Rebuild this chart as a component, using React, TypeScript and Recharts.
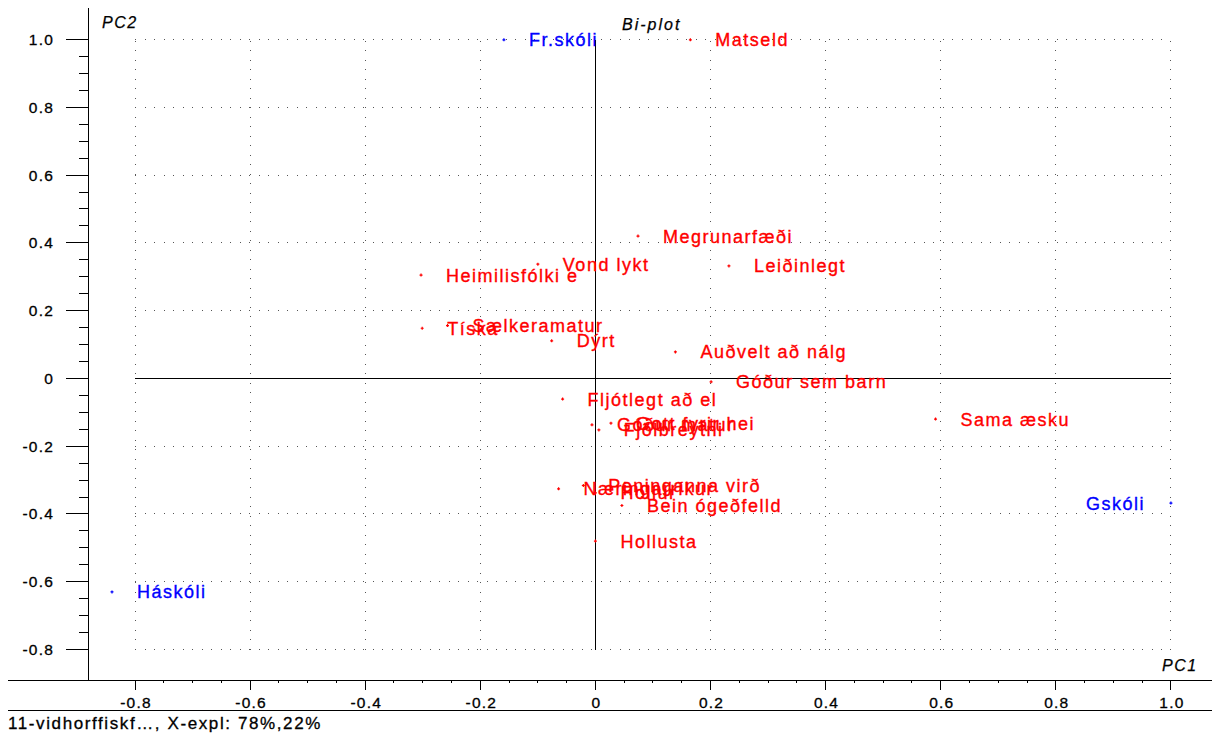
import React from "react"
import { ScatterChart, Scatter, XAxis, YAxis, ReferenceLine } from "recharts"

// variables (red) read from the bi-plot
const varNames = [
  "Matseld",
  "Megrunarfæði",
  "Leiðinlegt",
  "Vond lykt",
  "Heimilisfólki e",
  "Tíska",
  "Sælkeramatur",
  "Dýrt",
  "Auðvelt að nálg",
  "Góður sem barn",
  "Sama æsku",
  "Fljótlegt að el",
  "Góður matur",
  "Fjölbreytni",
  "Gott fyrir hei",
  "Næringarríkur",
  "Peninganna virð",
  "Hollur",
  "Bein ógeðfelld",
  "Hollusta",
]
const varPC1 = [0.165, 0.074, 0.232, -0.1, -0.303, -0.301, -0.257, -0.076, 0.139, 0.201, 0.591, -0.057, -0.006, 0.006, 0.027, -0.064, -0.021, 0.0, 0.046, 0.0]
const varPC2 = [0.999, 0.42, 0.332, 0.337, 0.305, 0.148, 0.156, 0.111, 0.078, -0.01, -0.12, -0.061, -0.137, -0.152, -0.132, -0.326, -0.316, -0.338, -0.375, -0.48]

// samples (blue)
const sampleNames = ["Fr.skóli", "Háskóli", "Gskóli"]
const samplePC1 = [-0.159, -0.84, 1.0]
const samplePC2 = [0.999, -0.63, -0.368]

const majorTicks = [-0.8, -0.6, -0.4, -0.2, 0, 0.2, 0.4, 0.6, 0.8, 1.0]

const varData = varNames.map((name, i) => ({ name, x: varPC1[i], y: varPC2[i] }))
const sampleData = sampleNames.map((name, i) => ({ name, x: samplePC1[i], y: samplePC2[i] }))

const allTicks: number[] = []
majorTicks.forEach((m, i) => {
  allTicks.push(m)
  if (i < majorTicks.length - 1) {
    for (let k = 1; k < 4; k++) allTicks.push(Math.round((m + k * 0.05) * 100) / 100)
  }
})

const FONT = "'Liberation Sans', Arial, sans-serif"
const isMajor = (v: number) => majorTicks.some((m) => Math.abs(m - v) < 1e-6)
const fmt = (v: number) => (Math.abs(v) < 1e-6 ? "0" : v.toFixed(1))

const XTick = (props: any) => {
  const { x, y, payload } = props
  const major = isMajor(payload.value)
  return (
    <g>
      <line x1={x} x2={x} y1={y} y2={y + (major ? 10 : 3)} stroke="#000" shapeRendering="crispEdges" />
      {major && (
        <text
          x={x + 1}
          y={y + 28}
          textAnchor="middle"
          fontSize={15.5}
          letterSpacing={1.2}
          fontFamily={FONT}
          fill="#000"
          stroke="#000"
          strokeWidth={0.3}
        >
          {fmt(payload.value)}
        </text>
      )}
    </g>
  )
}

const YTick = (props: any) => {
  const { x, y, payload } = props
  const major = isMajor(payload.value)
  return (
    <g>
      <line x1={x - (major ? 22 : 9)} x2={x} y1={y} y2={y} stroke="#000" shapeRendering="crispEdges" />
      {major && (
        <text
          x={x - 34}
          y={y + 5.5}
          textAnchor="end"
          fontSize={15.5}
          letterSpacing={1.2}
          fontFamily={FONT}
          fill="#000"
          stroke="#000"
          strokeWidth={0.3}
        >
          {fmt(payload.value)}
        </text>
      )}
    </g>
  )
}

const makeShape = (color: string) => (props: any) => {
  const { cx, cy, payload } = props
  const flip = payload.x > 0.9
  return (
    <g>
      <path d={`M${cx - 1.5},${cy}h3M${cx},${cy - 1.5}v3`} stroke={color} strokeWidth={1.2} />
      <text
        x={flip ? cx - 26 : cx + 25}
        y={cy + 6.5}
        textAnchor={flip ? "end" : "start"}
        fontSize={18}
        letterSpacing={1.5}
        fontFamily={FONT}
        fill={color}
        stroke={color}
        strokeWidth={0.35}
      >
        {payload.name}
      </text>
    </g>
  )
}

export default function App() {
  const W = 1212
  const H = 702
  return (
    <div style={{ position: "relative", width: W, height: 727, background: "#fff" }}>
      <ScatterChart width={W} height={H} margin={{ top: 0, right: 0, left: 0, bottom: 0 }}>
        <XAxis
          type="number"
          dataKey="x"
          domain={[-0.8817, 1.0853]}
          allowDataOverflow
          ticks={allTicks}
          interval={0}
          tickSize={0}
          tickMargin={0}
          tickLine={false}
          height={30}
          axisLine={{ stroke: "#000", shapeRendering: "crispEdges" }}
          tick={(p: any) => <XTick {...p} />}
        />
        <YAxis
          type="number"
          dataKey="y"
          domain={[-0.89, 1.093]}
          allowDataOverflow
          ticks={allTicks}
          interval={0}
          tickSize={0}
          tickMargin={0}
          tickLine={false}
          width={80}
          axisLine={{ stroke: "#000", shapeRendering: "crispEdges" }}
          tick={(p: any) => <YTick {...p} />}
        />
        {majorTicks
          .filter((v) => v !== 0)
          .map((v) => (
            <ReferenceLine
              key={`gx${v}`}
              segment={[{ x: v, y: -0.8 }, { x: v, y: 1.0 }]}
              stroke="#555"
              strokeDasharray="1 8.5"
              shapeRendering="crispEdges"
            />
          ))}
        {majorTicks
          .filter((v) => v !== 0)
          .map((v) => (
            <ReferenceLine
              key={`gy${v}`}
              segment={[{ x: -0.8, y: v }, { x: 1.0, y: v }]}
              stroke="#555"
              strokeDasharray="1 8.5"
              shapeRendering="crispEdges"
            />
          ))}
        <ReferenceLine segment={[{ x: 0, y: -0.8 }, { x: 0, y: 1.0 }]} stroke="#000" shapeRendering="crispEdges" />
        <ReferenceLine segment={[{ x: -0.8, y: 0 }, { x: 1.0, y: 0 }]} stroke="#000" shapeRendering="crispEdges" />
        <Scatter data={varData} fill="#ff0000" isAnimationActive={false} shape={makeShape("#ff0000")} />
        <Scatter data={sampleData} fill="#0000ff" isAnimationActive={false} shape={makeShape("#0000ff")} />
      </ScatterChart>
      <svg
        width={W}
        height={727}
        style={{ position: "absolute", left: 0, top: 0, pointerEvents: "none" }}
        fontFamily={FONT}
      >
        <line x1={0} x2={80} y1={672.5} y2={672.5} stroke="#000" />
        <line x1={0} x2={W} y1={702.5} y2={702.5} stroke="#000" />
        <text x={94} y={20} fontSize={16} fontStyle="italic" letterSpacing={1.5} fill="#000" stroke="#000" strokeWidth={0.25}>
          PC2
        </text>
        <text x={614} y={22} fontSize={16} fontStyle="italic" letterSpacing={2} fill="#000" stroke="#000" strokeWidth={0.25}>
          Bi-plot
        </text>
        <text x={1154} y={663} fontSize={16} fontStyle="italic" letterSpacing={1.5} fill="#000" stroke="#000" strokeWidth={0.25}>
          PC1
        </text>
        <text x={0} y={721} fontSize={17} letterSpacing={1.6} fill="#000" stroke="#000" strokeWidth={0.3}>
          11-vidhorffiskf…, X-expl: 78%,22%
        </text>
      </svg>
    </div>
  )
}
